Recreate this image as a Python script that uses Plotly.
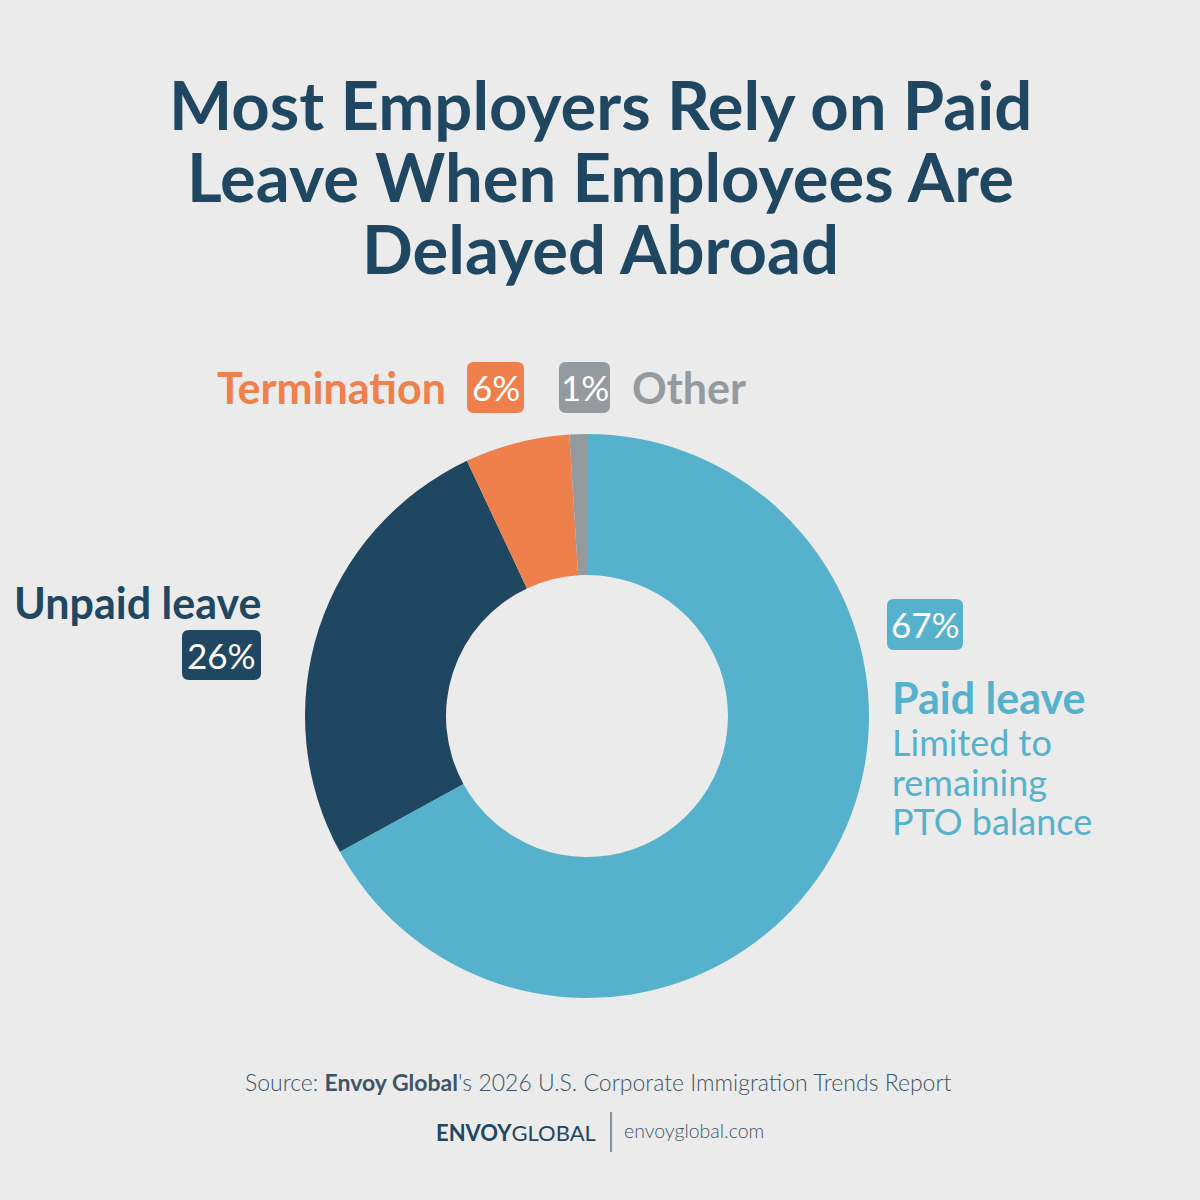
import plotly.graph_objects as go

categories = ["Paid leave", "Unpaid leave", "Termination", "Other"]
values = [67, 26, 6, 1]
colors = ["#56B1CC", "#1F4761", "#EF7F4B", "#959A9F"]
title_lines = ["Most Employers Rely on Paid", "Leave When Employees Are", "Delayed Abroad"]

BG = "#EBEBEB"
FONT = "Lato"
W = H = 1200

fig = go.Figure(go.Pie(
    labels=categories, values=values, marker=dict(colors=colors, line=dict(width=0)),
    hole=0.5, sort=False, direction="clockwise", rotation=0,
    textinfo="none", hoverinfo="label+percent", showlegend=False,
    domain=dict(x=[305 / W, 869 / W], y=[1 - 998 / H, 1 - 434 / H]),
))

ann = []
shapes = []

def px(x):
    return x / W

def py(y):
    return 1 - y / H

def text(x, y, s, size, color, weight=400, xanchor="center", font=FONT):
    ann.append(dict(x=px(x), y=py(y), xref="paper", yref="paper", text=s, showarrow=False,
                    xanchor=xanchor, yanchor="middle",
                    font=dict(family=font, size=size, color=color, weight=weight)))

def rbox(x0, y0, x1, y1, color, r=7):
    path = (f"M {px(x0 + r)} {py(y0)} L {px(x1 - r)} {py(y0)} Q {px(x1)} {py(y0)} {px(x1)} {py(y0 + r)} "
            f"L {px(x1)} {py(y1 - r)} Q {px(x1)} {py(y1)} {px(x1 - r)} {py(y1)} "
            f"L {px(x0 + r)} {py(y1)} Q {px(x0)} {py(y1)} {px(x0)} {py(y1 - r)} "
            f"L {px(x0)} {py(y0 + r)} Q {px(x0)} {py(y0)} {px(x0 + r)} {py(y0)} Z")
    shapes.append(dict(type="path", xref="paper", yref="paper", path=path,
                       fillcolor=color, line=dict(width=0), layer="below"))

# Title
for i, line in enumerate(title_lines):
    text(600, 104 + i * 72, line, 67, "#1F4761", weight=700)

pct = [f"{v}%" for v in values]

# Termination / Other
text(448, 387, categories[2], 43, colors[2], weight=700, xanchor="right")
rbox(467, 362, 524, 413, colors[2])
text(495.5, 387, pct[2], 35, "white")
rbox(559, 362, 610, 413, colors[3])
text(584.5, 387, pct[3], 35, "white")
text(630, 387, categories[3], 43, colors[3], weight=700, xanchor="left")

# Unpaid leave
text(263, 603, categories[1], 43, colors[1], weight=700, xanchor="right")
rbox(182, 630, 261, 680, colors[1])
text(221.5, 655, pct[1], 35, "white")

# Paid leave
rbox(887, 599, 963, 650, colors[0])
text(925, 624, pct[0], 35, "white")
text(890, 697, categories[0], 43, colors[0], weight=700, xanchor="left")
for i, s in enumerate(["Limited to", "remaining", "PTO balance"]):
    text(890, 742 + i * 39.5, s, 36, colors[0], xanchor="left")

# Source
text(598, 1082, "Source: <span style='font-weight:700'>Envoy Global</span>'s 2026 U.S. Corporate Immigration Trends Report",
     23, "#3E5466", weight=300)

# Logo
text(598, 1132, "<b>ENVOY</b>GLOBAL", 22, "#1F4761", xanchor="right")
shapes.append(dict(type="line", xref="paper", yref="paper", x0=px(611), x1=px(611), y0=py(1112), y1=py(1152),
                   line=dict(color="#3E5466", width=1.2)))
text(622, 1130, "envoyglobal.com", 19.5, "#3E5466", weight=300, xanchor="left")

fig.update_layout(
    width=W, height=H, margin=dict(l=0, r=0, t=0, b=0),
    paper_bgcolor=BG, plot_bgcolor=BG,
    annotations=ann, shapes=shapes,
)

fig.write_html("out.html")
